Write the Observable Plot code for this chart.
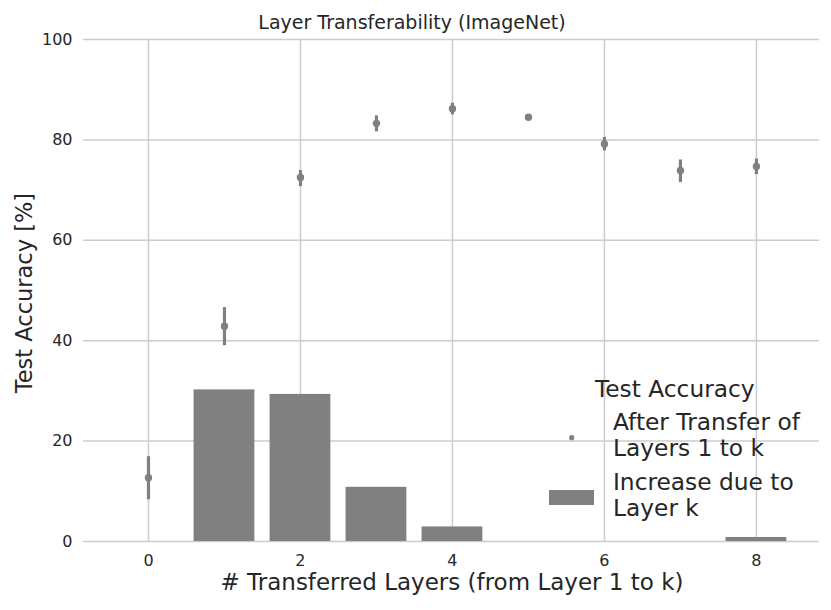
<!DOCTYPE html>
<html><head><meta charset="utf-8">
<script src="https://cdn.jsdelivr.net/npm/d3@7"></script>
<script src="https://cdn.jsdelivr.net/npm/@observablehq/plot@0.6"></script>
<style>
body{margin:0;background:#fff;}
svg{font-family:"DejaVu Sans",sans-serif;}
</style>
</head><body><div id="chart"></div>
<script>
const layers   = [0, 1, 2, 3, 4, 5, 6, 7, 8];
const accuracy = [12.7, 42.9, 72.5, 83.3, 86.2, 84.5, 79.2, 73.9, 74.7];
const errLow   = [8.3, 39.0, 70.7, 81.6, 85.0, 84.0, 77.8, 71.5, 73.1];
const errHigh  = [16.9, 46.6, 73.9, 84.8, 87.3, 85.0, 80.5, 76.0, 76.2];
const increase = [0, 30.2, 29.3, 10.8, 2.9, 0, 0, 0, 0.8];
const xTicks = [0, 2, 4, 6, 8];
const yTicks = [0, 20, 40, 60, 80, 100];
const titleText = "Layer Transferability (ImageNet)";
const xLabel = "# Transferred Layers (from Layer 1 to k)";
const yLabel = "Test Accuracy [%]";
const legendTitle = "Test Accuracy";
const legendPoint = ["After Transfer of", "Layers 1 to k"];
const legendBar = ["Increase due to", "Layer k"];

const gray = "#808080", ink = "#262626", grid = "#cccccc";
const data = layers.map((k, i) => ({k, acc: accuracy[i], lo: errLow[i], hi: errHigh[i], inc: increase[i]}));

const plot = Plot.plot({
  width: 831, height: 610,
  marginLeft: 83, marginRight: 12, marginTop: 39, marginBottom: 69,
  style: {fontFamily: "DejaVu Sans, sans-serif", fontSize: "16px", color: ink, background: "#fff"},
  x: {domain: [-0.855, 8.83]},
  y: {domain: [0, 100]},
  marks: [
    Plot.gridX(xTicks, {stroke: grid, strokeOpacity: 1, strokeWidth: 1.5}),
    Plot.gridY(yTicks, {stroke: grid, strokeOpacity: 1, strokeWidth: 1.5}),
    Plot.rectY(data, {x1: d => d.k - 0.4, x2: d => d.k + 0.4, y1: 0, y2: "inc", fill: gray}),
    Plot.ruleX(data, {x: "k", y1: "lo", y2: "hi", stroke: gray, strokeWidth: 3.2}),
    Plot.dot(data, {x: "k", y: "acc", r: 3.7, fill: gray}),
    Plot.axisX(xTicks, {tickSize: 0, tickPadding: 13, label: null, fontSize: 16, fill: ink}),
    Plot.axisY(yTicks, {tickSize: 0, tickPadding: 11, label: null, fontSize: 16, fill: ink})
  ]
});

const svg = d3.select(plot);
svg.append("text").attr("x", 412).attr("y", 29).attr("text-anchor", "middle")
  .attr("font-size", 19).attr("fill", ink).text(titleText);
svg.append("text").attr("x", 452).attr("y", 590).attr("text-anchor", "middle")
  .attr("font-size", 23).attr("fill", ink).text(xLabel);
svg.append("text").attr("transform", "translate(32,293) rotate(-90)").attr("text-anchor", "middle")
  .attr("font-size", 22.5).attr("fill", ink).text(yLabel);

const lg = svg.append("g").attr("font-size", 23.3).attr("fill", ink).attr("text-anchor", "start");
lg.append("text").attr("x", 595).attr("y", 397).text(legendTitle);
lg.append("circle").attr("cx", 571.7).attr("cy", 437.7).attr("r", 2.6).attr("fill", gray);
lg.append("text").attr("x", 613).attr("y", 430).text(legendPoint[0]);
lg.append("text").attr("x", 613).attr("y", 456).text(legendPoint[1]);
lg.append("rect").attr("x", 549).attr("y", 490).attr("width", 45).attr("height", 15).attr("fill", gray);
lg.append("text").attr("x", 613).attr("y", 489.5).text(legendBar[0]);
lg.append("text").attr("x", 613).attr("y", 515.5).text(legendBar[1]);

document.getElementById("chart").append(plot);
</script>
</body></html>
